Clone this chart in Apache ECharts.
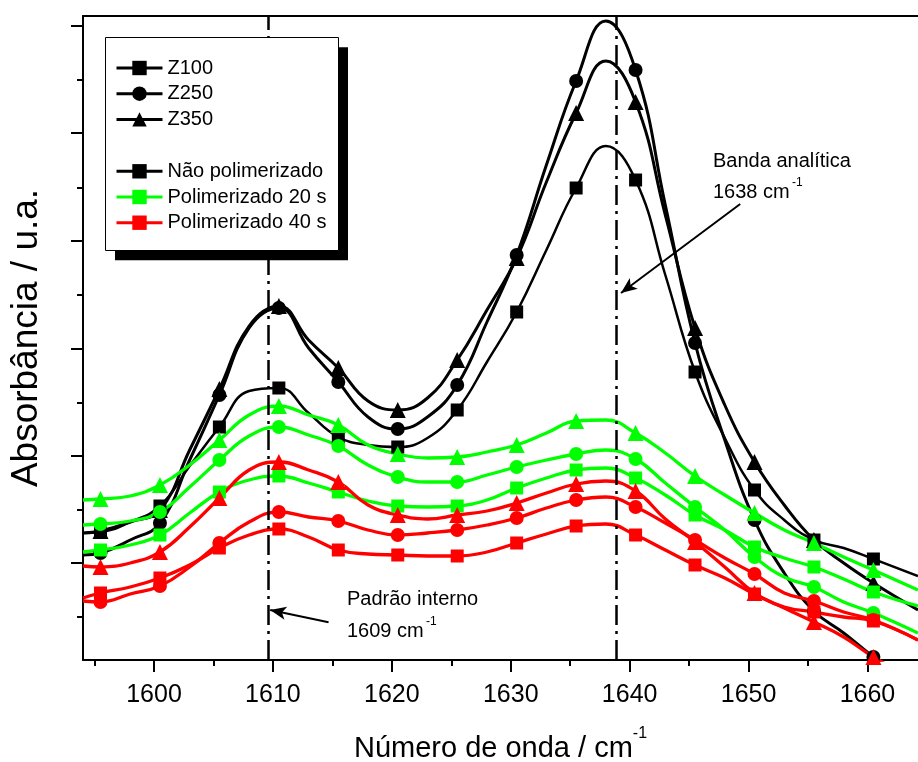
<!DOCTYPE html>
<html>
<head>
<meta charset="utf-8">
<title>Absorbância - banda analítica e padrão interno</title>
<script src="https://cdn.jsdelivr.net/npm/echarts@6/dist/echarts.min.js"></script>
<style>
html, body { margin: 0; padding: 0; background: #fff; }
#chart { width: 918px; height: 762px; }
</style>
</head>
<body>
<div id="chart"></div>
<script>
// número de onda (cm-1) dos pontos lidos; os marcadores ficam só nos x.5
var waveNumbers = [1594.03, 1595.5, 1598, 1600.5, 1603, 1605.5, 1608, 1610.5, 1613, 1615.5,
  1618, 1620.5, 1623, 1625.5, 1628, 1630.5, 1633, 1635.5, 1638, 1640.5,
  1643, 1645.5, 1648, 1650.5, 1653, 1655.5, 1658, 1660.5, 1664.25]

var xTickLabels = [1600, 1610, 1620, 1630, 1640, 1650, 1660]
var xMinorTicks = [1595, 1605, 1615, 1625, 1635, 1645, 1655]
// eixo y sem rótulos (u.a.)
var yMajorTicks = [0.97, 2.04, 3.11, 4.19, 5.27, 6.34]
var yMinorTicks = [0.43, 1.50, 2.57, 3.65, 4.72, 5.80]

// Não polimerizado
var z100Nao = [1.27, 1.28, 1.38, 1.54, 1.94, 2.33, 2.69, 2.72, 2.47, 2.23, 2.15, 2.13, 2.22, 2.50, 2.98, 3.48, 4.10, 4.72, 5.14, 4.80, 3.85, 2.88, 2.22, 1.70, 1.40, 1.20, 1.12, 1.01, 0.84]
var z250Nao = [1.05, 1.07, 1.20, 1.37, 2.00, 2.65, 3.32, 3.52, 3.12, 2.78, 2.43, 2.31, 2.43, 2.75, 3.38, 4.05, 4.95, 5.79, 6.39, 5.90, 4.55, 3.17, 2.20, 1.40, 0.87, 0.49, 0.27, 0.03, -0.30]
var z350Nao = [1.27, 1.29, 1.38, 1.50, 2.10, 2.71, 3.34, 3.54, 3.20, 2.92, 2.59, 2.50, 2.62, 3.00, 3.50, 4.02, 4.78, 5.47, 5.99, 5.58, 4.45, 3.32, 2.55, 1.98, 1.55, 1.20, 0.97, 0.77, 0.50]
// Polimerizado 20 s
var z100P20 = [1.08, 1.10, 1.15, 1.25, 1.47, 1.68, 1.80, 1.84, 1.77, 1.68, 1.59, 1.54, 1.53, 1.54, 1.60, 1.72, 1.82, 1.90, 1.92, 1.82, 1.65, 1.45, 1.30, 1.13, 1.02, 0.93, 0.81, 0.68, 0.54]
var z250P20 = [1.35, 1.36, 1.39, 1.48, 1.73, 2.00, 2.24, 2.33, 2.25, 2.14, 1.95, 1.83, 1.78, 1.78, 1.85, 1.93, 2.00, 2.06, 2.10, 2.01, 1.77, 1.53, 1.30, 1.03, 0.83, 0.73, 0.58, 0.47, 0.27]
var z350P20 = [1.60, 1.61, 1.64, 1.75, 1.95, 2.20, 2.45, 2.54, 2.45, 2.35, 2.15, 2.06, 2.02, 2.03, 2.08, 2.15, 2.27, 2.39, 2.40, 2.27, 2.07, 1.84, 1.65, 1.47, 1.30, 1.17, 1.03, 0.90, 0.70]
// Polimerizado 40 s
var z100P40 = [0.62, 0.67, 0.73, 0.82, 0.95, 1.12, 1.25, 1.31, 1.23, 1.10, 1.06, 1.05, 1.04, 1.04, 1.08, 1.17, 1.26, 1.34, 1.36, 1.25, 1.10, 0.95, 0.82, 0.66, 0.53, 0.48, 0.43, 0.39, 0.20]
var z250P40 = [0.59, 0.58, 0.66, 0.74, 0.93, 1.17, 1.38, 1.48, 1.43, 1.39, 1.30, 1.25, 1.27, 1.30, 1.35, 1.42, 1.52, 1.60, 1.63, 1.53, 1.37, 1.20, 1.02, 0.86, 0.67, 0.59, 0.48, 0.40, 0.20]
var z350P40 = [0.94, 0.93, 0.97, 1.08, 1.33, 1.62, 1.90, 1.98, 1.90, 1.78, 1.55, 1.45, 1.41, 1.45, 1.49, 1.57, 1.67, 1.76, 1.79, 1.69, 1.41, 1.18, 0.93, 0.67, 0.52, 0.38, 0.23, 0.03, -0.22]

var font = '"Liberation Sans", Arial, sans-serif'
var BLACK = '#000000'
var GREEN = '#00ff00'
var RED = '#ff0000'
var symbolSizes = { rect: 13, circle: 14, triangle: 16 }

var curves = [
  { name: 'Z100 - Não polimerizado', values: z100Nao, color: BLACK, symbol: 'rect', width: 2.5 },
  { name: 'Z250 - Não polimerizado', values: z250Nao, color: BLACK, symbol: 'circle', width: 3 },
  { name: 'Z350 - Não polimerizado', values: z350Nao, color: BLACK, symbol: 'triangle', width: 3 },
  { name: 'Z100 - Polimerizado 20 s', values: z100P20, color: GREEN, symbol: 'rect', width: 3.3 },
  { name: 'Z250 - Polimerizado 20 s', values: z250P20, color: GREEN, symbol: 'circle', width: 3.3 },
  { name: 'Z350 - Polimerizado 20 s', values: z350P20, color: GREEN, symbol: 'triangle', width: 3.3 },
  { name: 'Z100 - Polimerizado 40 s', values: z100P40, color: RED, symbol: 'rect', width: 3.3 },
  { name: 'Z250 - Polimerizado 40 s', values: z250P40, color: RED, symbol: 'circle', width: 3.3 },
  { name: 'Z350 - Polimerizado 40 s', values: z350P40, color: RED, symbol: 'triangle', width: 3.3 },
]

// itens só para a legenda
var legendItems = [
  { name: 'Z100', color: BLACK, symbol: 'rect' },
  { name: 'Z250', color: BLACK, symbol: 'circle' },
  { name: 'Z350', color: BLACK, symbol: 'triangle' },
  { name: 'Não polimerizado', color: BLACK, symbol: 'rect' },
  { name: 'Polimerizado 20 s', color: GREEN, symbol: 'rect' },
  { name: 'Polimerizado 40 s', color: RED, symbol: 'rect' },
]

function buildData(values) {
  return values.map(function(v, i) {
    var x = waveNumbers[i]
    var marked = Math.abs((x - 0.5) % 5) < 1e-6
    return marked ? [x, v] : { value: [x, v], symbol: 'none' }
  })
}

var dashDot = { color: BLACK, width: 2.5, type: [20, 6, 3, 6] }
var arrowLine = { color: BLACK, width: 2, type: 'solid' }

var series = curves.map(function(c, idx) {
  var s = {
    name: c.name,
    type: 'line',
    smooth: 0.45,
    data: buildData(c.values),
    symbol: c.symbol,
    symbolSize: symbolSizes[c.symbol],
    showAllSymbol: true,
    lineStyle: { color: c.color, width: c.width },
    itemStyle: { color: c.color },
    emphasis: { disabled: true },
    animation: false,
  }
  if (idx === 0) {
    // linhas verticais: padrão interno e banda analítica
    s.markLine = {
      silent: true,
      symbol: 'none',
      animation: false,
      label: { show: false },
      lineStyle: dashDot,
      data: [{ xAxis: 1609.65 }, { xAxis: 1638.87 }],
    }
  }
  if (idx === 1) {
    // setas das anotações
    s.markLine = {
      silent: true,
      symbol: ['none', 'arrow'],
      symbolSize: [10, 16],
      animation: false,
      label: { show: false },
      lineStyle: arrowLine,
      data: [
        [{ coord: [1649.3, 4.56] }, { coord: [1639.27, 3.67] }],
        [{ coord: [1614.68, 0.377] }, { coord: [1609.77, 0.50] }],
      ],
    }
  }
  return s
})

legendItems.forEach(function(l) {
  series.push({
    name: l.name,
    type: 'line',
    data: [],
    symbol: l.symbol,
    symbolSize: symbolSizes[l.symbol],
    lineStyle: { color: l.color, width: 3 },
    itemStyle: { color: l.color },
  })
})

var legendBase = {
  orient: 'vertical',
  left: 115,
  padding: 0,
  itemWidth: 46,
  itemHeight: 18,
  itemGap: 5.7,
  z: 20,
  selectedMode: false,
  lineStyle: { width: 3 },
  textStyle: { fontFamily: font, fontSize: 20, lineHeight: 20, color: BLACK },
}

var chartInstance = echarts.init(document.getElementById('chart'))
var option = {
  backgroundColor: '#ffffff',
  animation: false,
  grid: { left: 83, right: 0, top: 16, bottom: 102, outerBoundsMode: 'none', containLabel: false },
  legend: [
    Object.assign({}, legendBase, { top: 58, data: ['Z100', 'Z250', 'Z350'] }),
    Object.assign({}, legendBase, { top: 161.3, data: ['Não polimerizado', 'Polimerizado 20 s', 'Polimerizado 40 s'] }),
  ],
  xAxis: [
    {
      type: 'value',
      min: 1594.03,
      max: 1664.25,
      position: 'bottom',
      name: '{main|Número de onda / cm}{sup|-1}',
      nameLocation: 'middle',
      nameGap: 66,
      nameTextStyle: {
        color: BLACK,
        fontFamily: font,
        rich: {
          main: { fontSize: 29, lineHeight: 45, fontFamily: font, color: BLACK },
          sup: { fontSize: 16, lineHeight: 16, verticalAlign: 'top', fontFamily: font, color: BLACK },
        },
      },
      axisLine: { show: true, lineStyle: { color: BLACK, width: 2 } },
      axisTick: { show: true, length: 12, customValues: xTickLabels, lineStyle: { color: BLACK, width: 2 } },
      axisLabel: {
        show: true,
        customValues: xTickLabels,
        margin: 23,
        fontSize: 25,
        fontFamily: font,
        color: BLACK,
        formatter: function(v) {
          return String(v)
        },
      },
      splitLine: { show: false },
    },
    {
      type: 'value',
      min: 1594.03,
      max: 1664.25,
      position: 'bottom',
      axisLine: { show: false },
      axisTick: { show: true, length: 6, customValues: xMinorTicks, lineStyle: { color: BLACK, width: 2 } },
      axisLabel: { show: false },
      splitLine: { show: false },
    },
    {
      type: 'value',
      min: 1594.03,
      max: 1664.25,
      position: 'top',
      axisLine: { show: true, lineStyle: { color: BLACK, width: 2 } },
      axisTick: { show: false },
      axisLabel: { show: false },
      splitLine: { show: false },
    },
  ],
  yAxis: [
    {
      type: 'value',
      min: 0,
      max: 6.44,
      position: 'left',
      name: 'Absorbância / u.a.',
      nameLocation: 'middle',
      nameGap: 38,
      nameTextStyle: { fontSize: 37, fontFamily: font, color: BLACK },
      axisLine: { show: true, lineStyle: { color: BLACK, width: 2 } },
      axisTick: { show: true, length: 12, customValues: yMajorTicks, lineStyle: { color: BLACK, width: 2 } },
      axisLabel: { show: false },
      splitLine: { show: false },
    },
    {
      type: 'value',
      min: 0,
      max: 6.44,
      position: 'left',
      axisLine: { show: false },
      axisTick: { show: true, length: 6, customValues: yMinorTicks, lineStyle: { color: BLACK, width: 2 } },
      axisLabel: { show: false },
      splitLine: { show: false },
    },
  ],
  graphic: [
    // caixa da legenda com sombra
    { type: 'rect', z: 10, shape: { x: 115, y: 47.3, width: 233, height: 213 }, style: { fill: BLACK } },
    { type: 'rect', z: 11, shape: { x: 105.5, y: 37.5, width: 233, height: 213 }, style: { fill: '#fff', stroke: BLACK, lineWidth: 1 } },
    { type: 'text', z: 12, x: 713, y: 161, style: { text: 'Banda analítica', fontSize: 20, fontFamily: font, fill: BLACK, verticalAlign: 'middle' } },
    { type: 'text', z: 12, x: 713, y: 192, style: { text: '1638 cm', fontSize: 20, fontFamily: font, fill: BLACK, verticalAlign: 'middle' } },
    { type: 'text', z: 12, x: 792, y: 183, style: { text: '-1', fontSize: 12, fontFamily: font, fill: BLACK, verticalAlign: 'middle' } },
    { type: 'text', z: 12, x: 347, y: 599.5, style: { text: 'Padrão interno', fontSize: 20, fontFamily: font, fill: BLACK, verticalAlign: 'middle' } },
    { type: 'text', z: 12, x: 347, y: 631.7, style: { text: '1609 cm', fontSize: 20, fontFamily: font, fill: BLACK, verticalAlign: 'middle' } },
    { type: 'text', z: 12, x: 426, y: 622, style: { text: '-1', fontSize: 12, fontFamily: font, fill: BLACK, verticalAlign: 'middle' } },
  ],
  series: series,
}
chartInstance.setOption(option)
</script>
</body>
</html>
